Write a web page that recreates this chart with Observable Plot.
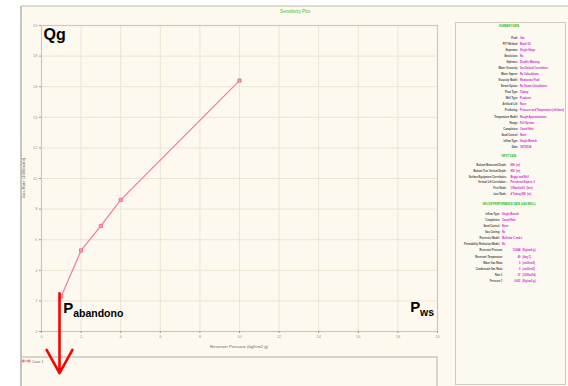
<!DOCTYPE html>
<html><head><meta charset="utf-8">
<script src="https://cdn.jsdelivr.net/npm/d3@7"></script>
<script src="https://cdn.jsdelivr.net/npm/@observablehq/plot@0.6"></script>
<style>
html,body{margin:0;padding:0;background:#fff;}
#chart{position:relative;width:568px;height:386px;overflow:hidden;background:#fff;}
svg{font-family:"Liberation Sans",Arial,sans-serif;}
</style></head><body><div id="chart"></div>
<script>
// ---- data ----
const pressures = [1, 2, 3, 4, 10];
const gasRates = [2.3, 5.3, 6.9, 8.6, 16.4];
const xTicks = [0, 2, 4, 6, 8, 10, 12, 14, 16, 18, 20];
const yTicks = [0, 2, 4, 6, 8, 10, 12, 14, 16, 18, 20];
const seriesName = "Case 1";
const chartTitle = "Sensitivity Plot";
const xTitle = "Reservoir Pressure (kgf/cm2 g)";
const yTitle = "Gas Rate (1000m3/d)";

const summaryHeader = "SUMMARY DATA";
const summaryLabels = ["Fluid","PVT Method","Separator","Emulsions","Hydrates","Water Viscosity","Water Vapour","Viscosity Model","Steam Option","Flow Type","Well Type","Artificial Lift","Predicting","Temperature Model","Range","Completion","Sand Control","Inflow Type","Date"];
const summaryValues = ["Gas","Black Oil","Single Stage","No","Disable Warning","Use Default Correlation","No Calculations","Newtonian Fluid","No Steam Calculations","Tubing","Producer","None","Pressure and Temperature (offshore)","Rough Approximation","Full System","Cased Hole","None","Single Branch","18/7/2014"];
const inputHeader = "INPUT DATA";
const inputLabels = ["Bottom Measured Depth","Bottom True Vertical Depth","Surface Equipment Correlation","Vertical Lift Correlation","First Node","Last Node"];
const inputValues = ["890  (m)","890  (m)","Beggs and Brill","Petroleum Experts 2","1 Manifold 0  (feet)","4 Tubing 890  (m)"];
const inflowHeader = "INFLOW PERFORMANCE DATA (GAS WELL)";
const inflowLabels = ["Inflow Type","Completion","Sand Control","Gas Coning","Reservoir Model","Permiability Reduction Model"];
const inflowValues = ["Single Branch","Cased Hole","None","No","Multirate C and n","No"];
const inflowNumLabels = ["Reservoir Pressure","Reservoir Temperature","Water Gas Ratio","Condensate Gas Ratio","Rate 1","Pressure 1"];
const inflowNumValues = ["12.844","40","0","0","37","0.001"];
const inflowNumUnits = ["(Kg/cm2 g)","(deg C)","(sm3/sm3)","(sm3/sm3)","(1000m3/d)","(Kg/cm2 g)"];

// annotation anchors (data units)
const arrowX = 0.91, arrowFrom = 2.5, arrowTo = -2.72;

const pink = "#f07aa2";
const data = pressures.map((p, i) => ({p, q: gasRates[i]}));

const plot = Plot.plot({
  width: 568, height: 386,
  marginLeft: 41, marginRight: 131, marginTop: 25, marginBottom: 55,
  style: {background: "transparent", fontFamily: "Liberation Sans, Arial, sans-serif", overflow: "visible"},
  x: {domain: [0, 20], label: null},
  y: {domain: [0, 20], label: null},
  marks: [
    Plot.gridX(xTicks, {stroke: "#ebe5d3", strokeOpacity: 1}),
    Plot.gridY(yTicks, {stroke: "#ebe5d3", strokeOpacity: 1}),
    Plot.frame({stroke: "#cdc8ba", strokeWidth: 1.2}),
    Plot.axisX(xTicks, {tickSize: 2, tickPadding: 2, fontSize: 4, color: "#999", label: null}),
    Plot.axisY(yTicks, {tickSize: 2, tickPadding: 2, fontSize: 4, color: "#999", label: null}),
    Plot.line(data, {x: "p", y: "q", stroke: pink, strokeWidth: 1.2}),
    Plot.dot(data, {x: "p", y: "q", symbol: "square", r: 1.8, fill: "#f5a3c0", stroke: "#e9608f", strokeWidth: 0.8}),
    Plot.arrow([{x: arrowX, y1: arrowFrom, y2: arrowTo}], {x1: "x", x2: "x", y1: "y1", y2: "y2", stroke: "#ff0000", strokeWidth: 2.6, headLength: 20, headAngle: 58}),
    Plot.text(["Qg"], {frameAnchor: "top-left", dx: 2, dy: 3, lineAnchor: "top", textAnchor: "start", fontSize: 16, fontWeight: "bold", fill: "#000"}),
    Plot.text(["P"], {x: 1.1, y: 1.18, textAnchor: "start", lineAnchor: "bottom", fontSize: 15, fontWeight: "bold", fill: "#000"}),
    Plot.text(["abandono"], {x: 1.6, y: 0.98, textAnchor: "start", lineAnchor: "bottom", fontSize: 10.5, fontWeight: "bold", fill: "#000"}),
    Plot.text(["P"], {x: 18.62, y: 1.3, textAnchor: "start", lineAnchor: "bottom", fontSize: 15, fontWeight: "bold", fill: "#000"}),
    Plot.text(["ws"], {x: 19.12, y: 1.04, textAnchor: "start", lineAnchor: "bottom", fontSize: 10.5, fontWeight: "bold", fill: "#000"})
  ]
});

const svg = d3.select(plot);
// background & chrome, inserted beneath the plot content
const bg = svg.insert("g", ":first-child");
bg.append("rect").attr("x", 21).attr("y", 6).attr("width", 547).attr("height", 380).attr("fill", "#fdf9ef");
bg.append("line").attr("x1", 21).attr("x2", 568).attr("y1", 6).attr("y2", 6).attr("stroke", "#bdb8ac").attr("stroke-width", 1.2);
bg.append("line").attr("x1", 21).attr("x2", 21).attr("y1", 6).attr("y2", 386).attr("stroke", "#8f8b82").attr("stroke-width", 1);
// legend box
bg.append("path").attr("d", "M21,357H437V386").attr("fill", "none").attr("stroke", "#cdc8ba").attr("stroke-width", 1.4);
// right panel
bg.append("rect").attr("x", 455.5).attr("y", 22.5).attr("width", 110).attr("height", 362).attr("fill", "#fcf9f0").attr("stroke", "#cfcabe");

const fg = svg.append("g");
// tiny text drawn at 10px and scaled down, so the browser lays it out reliably
function txt(x, y, s, size, fill, anchor = "start", extra = "", kx = 1) {
  const k = size / 10;
  return fg.append("g").attr("transform", `translate(${x},${y}) ${extra} scale(${k * kx},${k})`)
    .append("text").attr("font-size", 10).attr("text-anchor", anchor).attr("fill", fill).text(s);
}
txt(295, 13, chartTitle, 4.6, "#3bc43b", "middle");
txt(239, 347.5, xTitle, 4.2, "#666", "middle");
txt(25, 178, yTitle, 4.2, "#666", "middle", "rotate(-90)");
// legend entry
fg.append("line").attr("x1", 22).attr("x2", 30).attr("y1", 361).attr("y2", 361).attr("stroke", pink).attr("stroke-width", 1);
[23, 29].forEach(x => fg.append("rect").attr("x", x - 1.3).attr("y", 359.7).attr("width", 2.6).attr("height", 2.6).attr("fill", pink));
txt(32, 362.5, seriesName, 3.6, "#666");

// right panel text (condensed bold)
const green = "#22bb22", lab = "#444", mag = "#cc22cc", fs = 4.2, kx = 0.6;
function ptxt(x, y, s, fill, anchor) {
  return txt(x, y, s, fs, fill, anchor, "", kx).attr("font-weight", "bold");
}
function header(t, y) { ptxt(509, y, t, green, "middle"); }
function row(l, v, y, xl, xv) {
  ptxt(xl, y, l + ":", lab, "end");
  ptxt(xv, y, v, mag, "start");
}
header(summaryHeader, 27);
summaryLabels.forEach((l, i) => row(l, summaryValues[i], 39 + i * 6.04, 518, 520));
header(inputHeader, 156.8);
inputLabels.forEach((l, i) => row(l, inputValues[i], 165.8 + i * 5.85, 506.5, 510.5));
header(inflowHeader, 204.8);
inflowLabels.forEach((l, i) => row(l, inflowValues[i], 214.8 + i * 6.1, 500, 502));
inflowNumLabels.forEach((l, i) => {
  const y = 214.8 + (i + 6) * 6.1;
  ptxt(502.5, y, l, lab, "end");
  ptxt(520.5, y, inflowNumValues[i], mag, "end");
  ptxt(522.5, y, inflowNumUnits[i], mag, "start");
});

document.getElementById("chart").appendChild(plot);
</script></body></html>
